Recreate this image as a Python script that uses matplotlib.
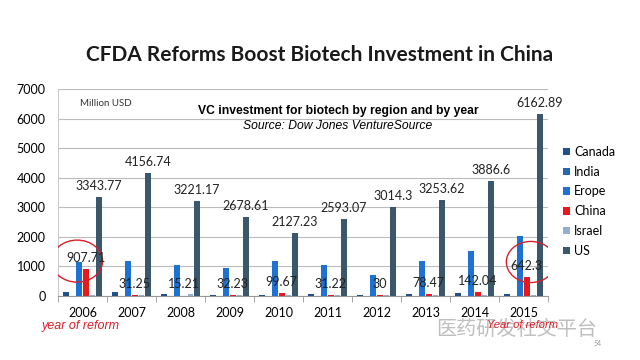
import numpy as np
import matplotlib.pyplot as plt
from matplotlib.patches import Ellipse, Patch

years = ["2006", "2007", "2008", "2009", "2010", "2011", "2012", "2013", "2014", "2015"]
regions = ["Canada", "India", "Erope", "China", "Israel", "US"]

canada = [130, 130, 70, 40, 50, 70, 50, 60, 90, 80]
india = [10, 10, 10, 10, 10, 10, 10, 10, 10, 10]
erope = [1150, 1180, 1040, 930, 1180, 1050, 710, 1180, 1520, 2030]
china = [907.71, 31.25, 15.21, 32.23, 99.67, 31.22, 30, 78.47, 142.04, 642.3]
israel = [30, 30, 80, 30, 30, 30, 30, 30, 30, 30]
us = [3343.77, 4156.74, 3221.17, 2678.61, 2127.23, 2593.07, 3014.3, 3253.62, 3886.6, 6162.89]

china_labels = ["907.71", "31.25", "15.21", "32.23", "99.67", "31.22", "30", "78.47", "142.04", "642.3"]
us_labels = ["3343.77", "4156.74", "3221.17", "2678.61", "2127.23", "2593.07", "3014.3", "3253.62", "3886.6", "6162.89"]

colors = ["#22508a", "#2465b4", "#1f72d2", "#e8191c", "#94aed0", "#3b576b"]

fig = plt.figure(figsize=(6.4, 3.6), dpi=100)
ax = fig.add_axes([58 / 640, 1 - 296 / 360, (548 - 58) / 640, (296 - 89) / 360])

x = np.arange(len(years))
step = 0.135
width = 0.115
series = [canada, india, erope, china, israel, us]
for i, (vals, c) in enumerate(zip(series, colors)):
    ax.bar(x + (i - 2.5) * step, vals, width, color=c, zorder=3)

# value labels for China and US
for xi, v, lab in zip(x, china, china_labels):
    ax.annotate(lab, (xi + 0.5 * step, v), xytext=(0, 8), textcoords="offset points",
                ha="center", va="center", fontsize=9, family="Lato", color="#222222", zorder=5)
for xi, v, lab in zip(x, us, us_labels):
    ax.annotate(lab, (xi + 2.5 * step, v), xytext=(0, 8), textcoords="offset points",
                ha="center", va="center", fontsize=9, family="Lato", color="#222222", zorder=5)

ax.set_xlim(-0.5, 9.5)
ax.set_ylim(0, 7000)
ax.set_yticks(range(0, 7001, 1000))
ax.set_xticks(x)
ax.set_xticklabels(years)
ax.set_xticks(np.arange(-0.5, 10, 1), minor=True)
ax.tick_params(axis="x", which="major", length=0, labelsize=9, pad=8)
ax.tick_params(axis="x", which="minor", length=4, color="#999999")
ax.tick_params(axis="y", length=0, labelsize=9, pad=9)
for lab in ax.get_xticklabels() + ax.get_yticklabels():
    lab.set_family("Lato")
ax.grid(axis="y", color="#bbbbbb", linewidth=0.8, zorder=0)
for s in ["top", "right"]:
    ax.spines[s].set_visible(False)
ax.spines["left"].set_color("#cccccc")
ax.spines["bottom"].set_color("#999999")

# red ellipses around reform years
ax.add_patch(Ellipse((-0.11, 1180), 1.04, 1420, fill=False, edgecolor="#d8202a", linewidth=1.0, zorder=4))
ax.add_patch(Ellipse((9.15, 1150), 1.0, 1390, fill=False, edgecolor="#d8202a", linewidth=1.0, zorder=4))

# legend
handles = [Patch(facecolor=c) for c in colors]
leg = fig.legend(handles, regions, loc="upper left", bbox_to_anchor=(558 / 640, 1 - 141 / 360),
                 frameon=False, fontsize=9, handlelength=0.55, handleheight=0.55,
                 handletextpad=0.35, labelspacing=0.62, borderaxespad=0)
for t in leg.get_texts():
    t.set_family("Lato")

# titles and notes
fig.text(320 / 640, 1 - 55 / 360, "CFDA Reforms Boost Biotech Investment in China",
         ha="center", va="center", fontsize=15, fontweight="bold", family="Lato", color="#1a1a1a")
fig.text(338 / 640, 1 - 111 / 360, "VC investment for biotech by region and by year",
         ha="center", va="center", fontsize=8.7, fontweight="bold", family="Liberation Sans")
fig.text(338 / 640, 1 - 126 / 360, "Source: Dow Jones VentureSource",
         ha="center", va="center", fontsize=8.7, style="italic", family="Liberation Sans")
fig.text(80 / 640, 1 - 103 / 360, "Million USD", ha="left", va="center", fontsize=7,
         family="Lato", color="#333333")
fig.text(42 / 640, 1 - 326 / 360, "year of reform", ha="left", va="center", fontsize=9,
         style="italic", family="Liberation Sans", color="#d8202a")

# watermark
fig.text(436 / 640, 1 - 329 / 360, "医药研发社交平台", ha="left", va="center", fontsize=14.5,
         family="Noto Sans CJK SC", color="#b8b8b8", alpha=0.9)
fig.text(487 / 640, 1 - 325 / 360, "Year of reform", ha="left", va="center", fontsize=8,
         style="italic", family="Liberation Sans", color="#d8202a")
fig.text(598 / 640, 1 - 343 / 360, "54", ha="center", va="center", fontsize=5,
         family="Lato", color="#999999")

fig.savefig("out.png", dpi=100)
